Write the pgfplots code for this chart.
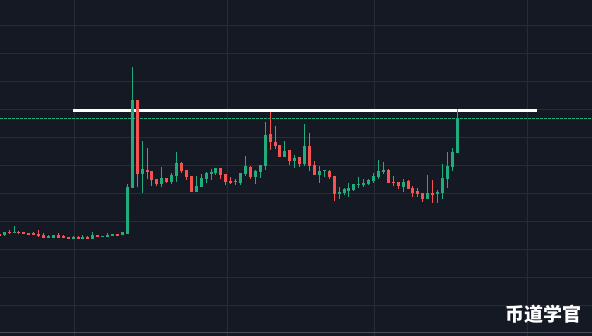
\documentclass[border=0pt]{standalone}
\usepackage{pgfplots}
\pgfplotsset{compat=1.18}
\usepackage{pgfplotstable}
\usepackage{fontspec}
\newfontfamily\cjk{Noto Sans CJK SC}
\definecolor{bg}{RGB}{21,25,36}
\definecolor{gridc}{RGB}{40,44,57}
\definecolor{cgreen}{RGB}{34,171,125}
\definecolor{cred}{RGB}{247,82,82}
\definecolor{axc}{RGB}{72,77,92}

% k = candle index, bt/bb = body top/bottom, hi/lo = wick ends (chart pixel rows, down = lower price)
\pgfplotstableread{
k bt bb hi lo
1 232 235 232 236.3
3 232 233 226 233
10 236.3 238 235.3 238
11 235 238 235 238
15 237.3 239 236.3 239
17 237.3 239 235 239
19 235 239 232 239
21 236 237 236 237
22 235 237 233.3 237
23 234 236 234 236
25 232 235 232 235
26 187 234 184 234
27 100 187.7 67 187.7
29 169 173.7 141 192.7
33 178 184 167 186.7
35 175 182 173 184
36 163 176 152 182
40 186 191.7 176 191.7
41 178 187 174 187
42 173 179 172 183
43 172 174 169 180
44 168 173 168 175
49 173 183 173 185
50 166 174 156 176
52 171 177 170 184
53 165 172 165 178
54 135 166 122 170
58 151 157 141 157
60 158 161 155 168
62 146 164 124 166
65 171 175 166 183
66 170 171 170 177
69 192 194 187 199
70 189 193 188 195
71 188 191 183 197
72 184 190 184 191
73 184 185 177 188
74 183 185 179 187
75 180 184 179 185
76 176 181 173 183
77 171 177 160 179
78 170 172 162 174
82 182 187 179 192
87 193 199 175 199
89 192 194 190 203
90 178 193 164 199
91 166 179 152 188
92 152 167 148 171
93 118 153 109 153
}\greentab

\pgfplotstableread{
k bt bb hi lo
0 234 235.7 233.5 236
2 231.7 232.7 230 234
4 232 233 230.7 234
5 232 234 232 234
6 233 235 233 235
7 233.3 234.7 232.3 234.7
8 233.7 236 230 237
9 235 238 233 238
12 235 238 233 238
13 236.3 238 235 238
14 237 239 237 239
16 237.3 239 236 239
18 237 239 236 239
20 235 237 235 237
24 234 236 234 236
28 100 173.7 100 186.7
30 170 171.7 148 178.7
31 171 180 171 185.7
32 179 184 179 185.7
34 178 182 178 183
37 163 171 162 173
38 170 177 170 180
39 176 191.7 176 191.7
45 168 175 168 179
46 174 182 174 185
47 181 183 177 184
48 181 182 179 185
51 167 177 166 179
55 134 142 112 150
56 142 146 126 149
57 145 157 145 157
59 150 161 150 165
61 157 164 157 167
63 146 166 133 171
64 165 175 161 175
67 171 177 170 179
68 176 194 176 201
79 170 183 169 183
80 182 183 176 186
81 182 186 182 189
83 181 189 180 189
84 188 193 186 197
85 191 194 188 197
86 193 199 193 202
88 193 195 180 203
}\redtab

\pgfplotsset{
  wick/.style={draw=none, mark=none,
    error bars/.cd, y dir=both, y explicit, error mark=none,
    error bar style={line width=1pt, draw=#1}},
  body/.style={draw=none, mark=none,
    error bars/.cd, y dir=plus, y explicit, error mark=none,
    error bar style={line width=3pt, draw=#1}},
}

\begin{document}
\begin{tikzpicture}
\begin{axis}[
  scale only axis, width=592pt, height=336pt,
  xmin=0, xmax=592, ymin=0, ymax=336, y dir=reverse,
  axis background/.style={fill=bg},
  axis line style={draw=none},
  xtick={74.3,227.3,374.3,527.3},
  ytick={25.3,53.3,...,305.3},
  xticklabels={}, yticklabels={},
  tick style={draw=none},
  grid=major, major grid style={draw=gridc, line width=1pt},
  clip=true,
]
% bottom time-scale border
\addplot[axc, line width=1pt] coordinates {(0,332.3) (592,332.3)};
% horizontal resistance line and price line
\addplot[white, line width=3pt] coordinates {(73.3,110.5) (536.7,110.5)};
\addplot[cgreen, line width=1pt, dash pattern=on 2.7pt off 1.3pt] coordinates {(0,118.3) (592,118.3)};

% wicks
\addplot[wick=cgreen] table[x expr={-0.75+4.925*\thisrow{k}}, y=bt,
   y error plus expr={\thisrow{lo}-\thisrow{bt}},
   y error minus expr={\thisrow{bt}-\thisrow{hi}}] {\greentab};
\addplot[wick=cred] table[x expr={-0.75+4.925*\thisrow{k}}, y=bt,
   y error plus expr={\thisrow{lo}-\thisrow{bt}},
   y error minus expr={\thisrow{bt}-\thisrow{hi}}] {\redtab};
% bodies
\addplot[body=cgreen] table[x expr={-0.75+4.925*\thisrow{k}}, y=bt,
   y error plus expr={max(\thisrow{bb}-\thisrow{bt},1)}] {\greentab};
\addplot[body=cred] table[x expr={-0.75+4.925*\thisrow{k}}, y=bt,
   y error plus expr={max(\thisrow{bb}-\thisrow{bt},1)}] {\redtab};

\node[text=white, font=\cjk\bfseries\fontsize{19}{19}\selectfont, inner sep=0pt] at (axis cs:543.3,314) {币道学官};
\end{axis}
\pgfresetboundingbox
\path (current axis.south west) rectangle (current axis.north east);
\end{tikzpicture}
\end{document}
